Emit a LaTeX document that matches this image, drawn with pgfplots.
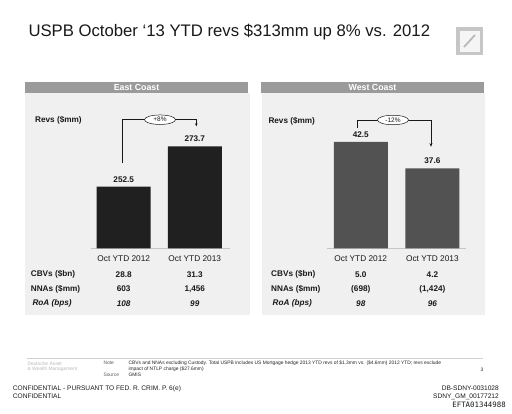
\documentclass[border=0pt]{standalone}
\usepackage{pgfplots}
\pgfplotsset{compat=1.18}
\usepackage{fontspec}
\setmainfont{Liberation Sans}
\newfontfamily\efmono{DejaVu Sans Mono}
\usetikzlibrary{arrows.meta,shapes.geometric}
\definecolor{panelbg}{RGB}{240,240,240}
\definecolor{headbg}{RGB}{155,155,155}
\definecolor{eastbar}{RGB}{32,32,32}
\definecolor{westbar}{RGB}{82,82,82}
\definecolor{txt}{RGB}{25,25,25}
\newcommand\fs[1]{\fontsize{#1}{#1}\selectfont}
\begin{document}
\begin{tikzpicture}
\fill[white] (0pt,0pt) rectangle (512pt,-413pt);
\begin{scope}[x=1pt,y=-1pt]
% title
\node[anchor=base west,inner sep=0pt,text=txt,font=\fs{16.7}] at (28.3,36.7) {USPB October ‘13 YTD revs \$313mm up 8\% vs. 2012};
% logo
\fill[gray!45] (456,27) rectangle (483,55);
\fill[gray!8] (459.5,30.5) rectangle (479.5,51.5);
\draw[gray!55,line width=1.8pt] (464,47) -- (475,35);
% panels
\fill[panelbg] (25,93) rectangle (250,315);
\fill[panelbg] (262,93) rectangle (485,315);
\fill[headbg] (25,82) rectangle (248,93);
\fill[headbg] (261,82) rectangle (484,93);
\node[text=white,font=\bfseries\fs{8.8}] at (136.5,87.5) {East Coast};
\node[text=white,font=\bfseries\fs{8.8}] at (372.5,87.5) {West Coast};
% revs labels
\node[anchor=west,inner sep=0pt,text=txt,font=\bfseries\fs{8.2}] at (35,120.7) {Revs (\$mm)};
\node[anchor=west,inner sep=0pt,text=txt,font=\bfseries\fs{8.2}] at (268.3,121) {Revs (\$mm)};
\end{scope}

\begin{axis}[
  at={(90.7pt,-248.3pt)}, anchor=south west,
  scale only axis, width=139.3pt, height=113.8pt,
  xmin=-0.465, xmax=1.496, ymin=220, ymax=280,
  axis x line=bottom, axis y line=none,
  x axis line style={draw=gray!45, -},
  xtick={0,1}, xticklabels={Oct YTD 2012, Oct YTD 2013},
  major tick length=0pt, ytick=\empty,
  xticklabel style={font=\fs{8.3}, text=txt, yshift=-4pt},
  ybar, bar width=54pt,
  nodes near coords,
  nodes near coords style={font=\bfseries\fs{8.2}, text=txt, yshift=1pt},
  /pgf/number format/fixed, /pgf/number format/fixed zerofill,
  /pgf/number format/precision=1, /pgf/number format/assume math mode=true,
]
\addplot[fill=eastbar, draw=none] coordinates {(0,252.5) (1,273.7)};
\end{axis}

\begin{axis}[
  at={(326.7pt,-248.3pt)}, anchor=south west,
  scale only axis, width=139pt, height=113.8pt,
  xmin=-0.476, xmax=1.465, ymin=22.9, ymax=43.86,
  axis x line=bottom, axis y line=none,
  x axis line style={draw=gray!45, -},
  xtick={0,1}, xticklabels={Oct YTD 2012, Oct YTD 2013},
  major tick length=0pt, ytick=\empty,
  xticklabel style={font=\fs{8.3}, text=txt, yshift=-4pt},
  ybar, bar width=54pt,
  nodes near coords,
  nodes near coords style={font=\bfseries\fs{8.2}, text=txt, yshift=1pt},
  /pgf/number format/fixed, /pgf/number format/fixed zerofill,
  /pgf/number format/precision=1, /pgf/number format/assume math mode=true,
]
\addplot[fill=westbar, draw=none] coordinates {(0,42.5) (1,37.6)};
\end{axis}

\begin{scope}[x=1pt,y=-1pt]
% brackets
\draw[txt,line width=0.5pt,-{Stealth[length=3pt,width=2.6pt]}] (122.5,163) -- (122.5,119.7) -- (196.3,119.7) -- (196.3,126.3);
\node[draw=txt,line width=0.5pt,ellipse,fill=white,inner sep=0pt,minimum width=31pt,minimum height=9.5pt,font=\fs{6.5},text=txt] at (160,119.7) {+8\%};
\draw[txt,line width=0.5pt,-{Stealth[length=3.5pt,width=3pt]}] (357.3,128) -- (357.3,120) -- (431,120) -- (431,146.7);
\node[draw=txt,line width=0.5pt,ellipse,fill=white,inner sep=0pt,minimum width=31pt,minimum height=9.5pt,font=\fs{6.5},text=txt] at (393,120) {-12\%};
% table rows east
\begin{scope}[every node/.style={inner sep=0pt,text=txt,font=\bfseries\fs{8.2}}]
\node[anchor=west] at (30.7,274.3) {CBVs (\$bn)};
\node[anchor=west] at (30.7,289) {NNAs (\$mm)};
\node[anchor=west,font=\bfseries\itshape\fs{8.2}] at (32.3,303.3) {RoA (bps)};
\node at (123.7,274.3) {28.8};
\node at (194.8,274.3) {31.3};
\node at (123.7,289) {603};
\node at (194.8,289) {1,456};
\node[font=\bfseries\itshape\fs{8.2}] at (123.7,303.3) {108};
\node[font=\bfseries\itshape\fs{8.2}] at (194.8,303.3) {99};
% west
\node[anchor=west] at (271,274.3) {CBVs (\$bn)};
\node[anchor=west] at (271,289) {NNAs (\$mm)};
\node[anchor=west,font=\bfseries\itshape\fs{8.2}] at (272.5,303.3) {RoA (bps)};
\node at (360.8,274.3) {5.0};
\node at (432.4,274.3) {4.2};
\node at (360.8,289) {(698)};
\node at (432.4,289) {(1,424)};
\node[font=\bfseries\itshape\fs{8.2}] at (360.8,303.3) {98};
\node[font=\bfseries\itshape\fs{8.2}] at (432.4,303.3) {96};
\end{scope}
% footer
\draw[gray!35,line width=0.4pt] (27,357.7) -- (483,357.7);
\begin{scope}[every node/.style={inner sep=0pt,anchor=west,font=\fs{4.9}}]
\node[text=gray!55] at (27.3,363.3) {Deutsche Asset};
\node[text=gray!55] at (27.3,369.5) {\& Wealth Management};
\node[text=gray!75!black] at (103.3,363.3) {Note};
\node[text=gray!75!black] at (103.3,375) {Source};
\node[text=gray!30!black] at (128.3,363.3) {CBVs and NNAs excluding Custody. Total USPB includes US Mortgage hedge 2013 YTD revs of \$1.3mm vs. (\$4.6mm) 2012 YTD; revs exclude};
\node[text=gray!30!black] at (128.3,369.3) {impact of NTLP charge (\$27.6mm)};
\node[text=gray!30!black] at (128.3,375) {GMIS};
\node[text=gray!30!black] at (480.5,369.5) {3};
\end{scope}
\begin{scope}[every node/.style={inner sep=0pt,font=\fs{6.6},text=txt}]
\node[anchor=west] at (12.7,388.3) {CONFIDENTIAL - PURSUANT TO FED. R. CRIM. P. 6(e)};
\node[anchor=west] at (12.7,396.5) {CONFIDENTIAL};
\node[anchor=east] at (499,388.3) {DB-SDNY-0031028};
\node[anchor=east] at (499,396.5) {SDNY\_GM\_00177212};
\node[anchor=east,font=\efmono\fs{7.4}] at (506,405) {EFTA01344988};
\end{scope}
\end{scope}
\end{tikzpicture}
\end{document}
